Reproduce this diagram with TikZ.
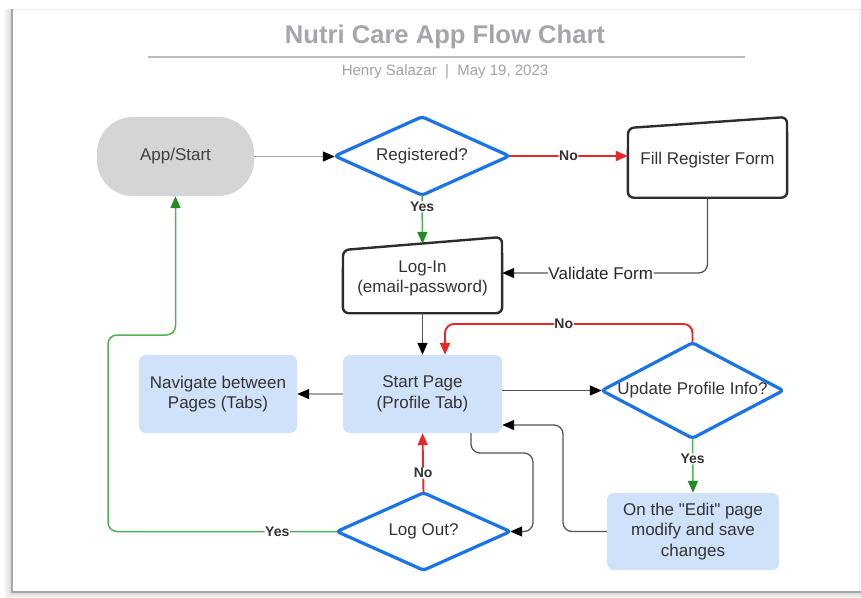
\documentclass[tikz,border=0pt]{standalone}
\usepackage{fontspec}
\setmainfont{Liberation Sans}
\newfontfamily\plainquotes{Liberation Sans}[Ligatures=ResetAll]
\newcommand{\dq}{{\plainquotes\symbol{34}}}
\usetikzlibrary{arrows.meta}

\definecolor{txt}{RGB}{51,51,51}
\definecolor{titlegray}{RGB}{163,166,173}
\definecolor{rulegray}{RGB}{185,188,194}
\definecolor{subgray}{RGB}{160,163,170}
\definecolor{startgray}{RGB}{212,213,215}
\definecolor{blueline}{RGB}{26,115,232}
\definecolor{bluefill}{RGB}{207,226,249}
\definecolor{outline}{RGB}{45,45,45}
\definecolor{redline}{RGB}{232,40,40}
\definecolor{greenline}{RGB}{84,176,84}
\definecolor{greenhead}{RGB}{34,139,34}
\definecolor{connector}{RGB}{85,85,85}
\definecolor{lightconn}{RGB}{165,165,165}

\tikzset{
  nodetext/.style={font=\fontsize{17}{20.5}\selectfont, text=txt, align=center},
  boxframe/.style={nodetext, minimum width=#1, inner sep=0pt},
  bluebox/.style={nodetext, fill=bluefill, rounded corners=7pt, inner sep=0pt},
  decision/.style={draw=blueline, line width=3.2pt, line join=round, rounded corners=3pt},
  manualin/.style={draw=outline, line width=2.4pt, line join=round, rounded corners=6pt},
  lbl/.style={font=\bfseries\fontsize{14}{16}\selectfont, text=txt, fill=white, inner sep=0.6pt},
  conn/.style={draw=connector, line width=1.3pt, rounded corners=9pt,
    -{Triangle[length=12pt,width=10pt,color=black]}},
  lightconn/.style={conn, draw=lightconn},
  noconn/.style={draw=redline, line width=1.9pt, rounded corners=9pt,
    -{Triangle[length=12pt,width=10pt,color=redline]}},
  yesconn/.style={draw=greenline, line width=1.5pt, rounded corners=9pt,
    -{Triangle[length=12pt,width=10pt,color=greenhead]}},
}

\begin{document}
\begin{tikzpicture}[x=1pt,y=-1pt]
\useasboundingbox (0,0) rectangle (861,597);

% card with soft shadow on the left and bottom edges
\fill[white] (0,0) rectangle (861,597);
\foreach \d/\o in {6/0.05,4/0.08,2/0.12}{
  \draw[black, opacity=\o, line width=2pt] (12-\d,9) -- (12-\d,592+\d) -- (861,592+\d);
}
\draw[black!8, line width=1pt] (12,9) -- (861,9);
\draw[black!6, line width=1pt] (859,9) -- (859,592);
\draw[black!35, line width=1.8pt] (12,9) -- (12,592) -- (861,592);

% heading
\node[font=\bfseries\fontsize{25.6}{30}\selectfont, text=titlegray] (title) at (445,37) {Nutri Care App Flow Chart};
\draw[rulegray, line width=2pt] (148,57) -- (745,57);
\node[font=\fontsize{15}{17}\selectfont, text=subgray] (subtitle) at (445,72) {Henry Salazar \;|\; May 19, 2023};

% terminal
\node[nodetext, text=black!75, fill=startgray, rounded corners=36pt,
      minimum width=157pt, minimum height=79pt, inner sep=0pt] (app) at (175.5,156.5) {App/Start};

% decisions (diamonds drawn on invisible frames)
\node[nodetext, minimum width=174pt, minimum height=78pt, inner sep=0pt] (reg) at (422,156) {Registered?};
\draw[decision] (reg.west) -- (reg.north) -- (reg.east) -- (reg.south) -- cycle;

\node[nodetext, minimum width=181pt, minimum height=95pt, inner sep=0pt] (upd) at (692.5,390.5) {Update Profile Info?};
\draw[decision] (upd.west) -- (upd.north) -- (upd.east) -- (upd.south) -- cycle;

\node[nodetext, minimum width=173pt, minimum height=77pt, inner sep=0pt] (logout) at (423.5,531.5) {Log Out?};
\draw[decision] (logout.west) -- (logout.north) -- (logout.east) -- (logout.south) -- cycle;

% manual input boxes (slanted top edge)
\node[boxframe=159pt, minimum height=75pt] (fill) at (707.5,160) {Fill Register Form};
\coordinate (fillTL) at (628,128);
\coordinate (fillTR) at (787,117);
\draw[manualin] (fill.south west) -- (fillTL) -- (fillTR) -- (fill.south east) -- cycle;

\node[boxframe=159pt, minimum height=69pt] (login) at (422.5,278.5) {Log-In\\(email-password)};
\coordinate (loginTL) at (343,250);
\coordinate (loginTR) at (502,237);
\draw[manualin] (login.south west) -- (loginTL) -- (loginTR) -- (login.south east) -- cycle;

% process boxes
\node[bluebox, minimum width=159pt, minimum height=78pt] (start) at (422.5,394) {Start Page\\(Profile Tab)};
\node[bluebox, minimum width=158pt, minimum height=78pt] (nav) at (218,394) {Navigate between\\Pages (Tabs)};
\node[bluebox, minimum width=172pt, minimum height=77pt] (edit) at (693,531.5) {On the \dq Edit\dq{} page\\modify and save\\changes};

% connectors
\draw[lightconn] (app.east) -- (reg.west |- app.east);
\draw[noconn] (reg.east) -- node[lbl, pos=0.5] {No} (reg.east -| fill.west);
\draw[yesconn] (reg.south) -- node[lbl, pos=0.24] {Yes} (login.north);
\draw[conn] (fill.south) |- node[nodetext, text=black!85, fill=white, inner sep=0.6pt, pos=0.76] {Validate Form} ([yshift=5.5pt]login.east);
\draw[conn] (login.south) -- (start.north);
\draw[lightconn] (start.west) -- (nav.east);
\draw[conn] (start.east |- upd.west) -- (upd.west);

\coordinate (noTurn) at (445,324);
\draw[noconn] (upd.north) |- node[lbl, pos=0.76] {No} (noTurn) -- (noTurn |- start.north);

\draw[yesconn] (upd.south) -- node[lbl, pos=0.38] {Yes} (edit.north);

\coordinate (backTurn) at (563,425);
\draw[conn] (edit.west) -| (backTurn) -- (backTurn -| start.east);

\coordinate (downA) at (471,453);
\coordinate (downB) at (533,453);
\draw[conn] (downA |- start.south) -- (downA) -- (downB) |- (logout.east);

\draw[noconn] (logout.north) -- node[lbl, pos=0.33] {No} (start.south);

\coordinate (yesTurn) at (108,335);
\draw[yesconn] (logout.west) -| node[lbl, pos=0.13] {Yes} (yesTurn) -| (app.south);

\end{tikzpicture}
\end{document}
